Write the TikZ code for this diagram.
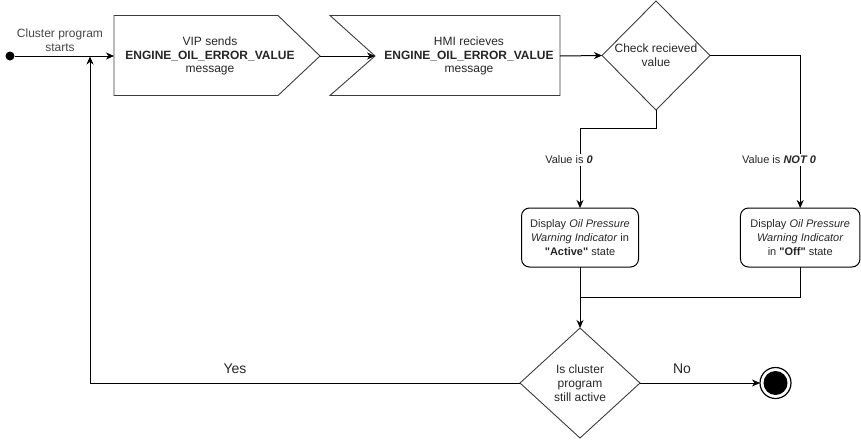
\documentclass[tikz,border=0pt]{standalone}
\usepackage{fontspec}
\setmainfont{Liberation Sans}[Ligatures=TeXOff]
\usetikzlibrary{arrows.meta,shapes.geometric}
\definecolor{txt}{HTML}{262626}
\definecolor{edge}{HTML}{3C3C3C}
\begin{document}
\begin{tikzpicture}[x=1pt,y=-1pt,
  every node/.style={font=\fontsize{12}{13.8}\selectfont, text=txt, inner sep=0pt, outer sep=0pt},
  small/.style={font=\fontsize{11}{14}\selectfont},
  shapeline/.style={draw=edge, line width=0.9pt},
  link/.style={draw=black, line width=1pt},
  arr/.style={link, -{Stealth[length=8pt,width=7pt,inset=2.5pt]}},
  decision/.style={diamond, shapeline, align=center},
  actionbox/.style={rectangle, rounded corners=8pt, draw=black, line width=1pt,
    minimum height=59, align=center, small},
  lbl/.style={fill=white, inner sep=1.5pt, small},
  bigl/.style={font=\fontsize{14}{16}\selectfont}]
\useasboundingbox (0,0) rectangle (861,439);

% start point
\node[circle, fill=black, minimum size=9] (start) at (10,56) {};
\node[align=center, text=txt!85] (startlbl) at (60,40) {Cluster program\\starts};

% send signal (VIP)
\draw[shapeline] (114,15.5) -- (278,15.5) -- (320,56) -- (278,95.5) -- (114,95.5) -- cycle;
\coordinate (vipW) at (114,56);
\coordinate (vipE) at (320,56);
\node[align=center] (vip) at (210,56) {VIP sends\\\textbf{ENGINE\_OIL\_ERROR\_VALUE}\\message};

% receive signal (HMI)
\draw[shapeline] (330,15.5) -- (560,15.5) -- (560,95.5) -- (330,95.5) -- (375,56) -- cycle;
\coordinate (hmiW) at (375,56);
\coordinate (hmiE) at (560,56);
\node[align=center] (hmi) at (469,56) {HMI recieves\\\textbf{ENGINE\_OIL\_ERROR\_VALUE}\\message};

% decisions
\node[decision, minimum width=108, minimum height=109] (check) at (656,55.5) {Check recieved\\value};
\node[decision, minimum width=120, minimum height=110] (active) at (580,383) {Is cluster\\program\\still active};

% actions
\node[actionbox, minimum width=117] (dispA) at (580,237.5)
  {Display \textit{Oil Pressure}\\\textit{Warning Indicator} in\\\textbf{"Active"} state};
\node[actionbox, minimum width=119.5] (dispO) at (800.2,237.5)
  {Display \textit{Oil Pressure}\\\textit{Warning Indicator}\\in \textbf{"Off"} state};

% final state
\node[circle, draw=black, line width=1.2pt, minimum size=31] (final) at (775.5,383) {};
\fill[black] (final.center) circle (12);

% connectors
\draw[arr] (start) -- (vipW);
\draw[arr] (vipE) -- (hmiW);
\draw[arr] (hmiE) -- (check.west);
\draw[arr] (check.south) -- ++(0,18) -| (dispA.north);
\draw[arr] (check.east) -| (dispO.north);
\node[lbl] (zero) at (569,160) {Value is \textbf{\textit{0}}};
\node[lbl] (notzero) at (779,160) {Value is \textbf{\textit{NOT 0}}};
\coordinate (merge) at (580,297.5);
\draw[link] (dispO.south) |- (merge);
\draw[arr] (dispA.south) -- (active.north);
\draw[arr] (active.east) -- (final.west);
\node[bigl] (no) at (682,369) {No};
\coordinate (loop) at (90,56.5);
\draw[arr] (active.west) -| (loop);
\node[bigl] (yes) at (235,369) {Yes};
\end{tikzpicture}
\end{document}
